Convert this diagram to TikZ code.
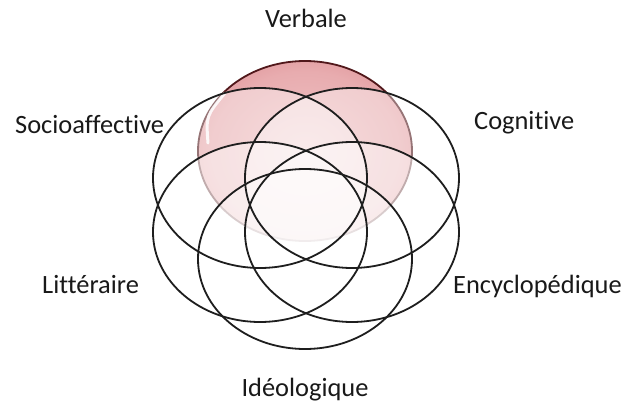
\documentclass[tikz,border=0pt]{standalone}
\usepackage{fontspec}
\setmainfont{Carlito}[Ligatures={NoCommon,NoContextual}]
\usetikzlibrary{shadings}
\pgfdeclareradialshading{glasswhite}{\pgfpoint{0bp}{0bp}}{%
  color(0bp)=(white); color(26bp)=(white); color(37bp)=(black!8);
  color(45bp)=(black!18); color(50bp)=(black!36)}
\definecolor{rimred}{RGB}{135,40,45}
\definecolor{redA}{RGB}{192,88,95}
\definecolor{redB}{RGB}{216,132,137}
\definecolor{redC}{RGB}{232,172,175}
\definecolor{redD}{RGB}{240,198,200}
\pgfdeclareradialshading{glassred}{\pgfpoint{0bp}{0bp}}{%
  color(0bp)=(redD); color(22bp)=(redC); color(36bp)=(redB);
  color(45bp)=(redA); color(50bp)=(rimred)}
\definecolor{edge}{RGB}{30,30,30}
\tikzset{
  lbl/.style={anchor=base, inner sep=0pt, font=\fontsize{26.4}{30}\selectfont, text=black!90},
  whitefill/.style={shading=glasswhite, fill opacity=0.4},
  outline/.style={draw=edge, line width=1.8pt},
}
\begin{document}
\begin{tikzpicture}[x=1pt,y=-1pt]
\useasboundingbox[fill=white] (0,0) rectangle (624,404);
% centres
\coordinate (cV) at (305,151);
\coordinate (cS) at (260,178);
\coordinate (cC) at (352,178);
\coordinate (cL) at (260,232);
\coordinate (cE) at (352,232);
\coordinate (cI) at (305,259);
% red ellipse (behind)
\shade[shading=glassred] (cV) ellipse [x radius=107, y radius=90];
\draw[draw=rimred!60!black, line width=1.8pt] (cV) ellipse [x radius=107, y radius=90];
% highlight on the red one
\draw[white, line width=3pt, opacity=0.85, line cap=round]
  ([shift={(-97,-8)}]cV) .. controls ([shift={(-99,-35)}]cV) .. ([shift={(-80,-58)}]cV);
% translucent white ellipses
\foreach \c in {cS,cC,cL,cE,cI}{
  \shade[whitefill] (\c) ellipse [x radius=107, y radius=90];
}
% outlines
\foreach \c in {cS,cC,cL,cE,cI}{
  \draw[outline] (\c) ellipse [x radius=107, y radius=90];
}
% labels
\node[lbl] (tV) at (306,28) {Verbale};
\node[lbl, anchor=base west] (tS) at (15,133) {Socioaffective};
\node[lbl, anchor=base west] (tC) at (474,129) {Cognitive};
\node[lbl, anchor=base west] (tL) at (42,293) {Littéraire};
\node[lbl, anchor=base west] (tE) at (453,293) {Encyclopédique};
\node[lbl] (tI) at (305,396) {Idéologique};
\end{tikzpicture}
\end{document}
